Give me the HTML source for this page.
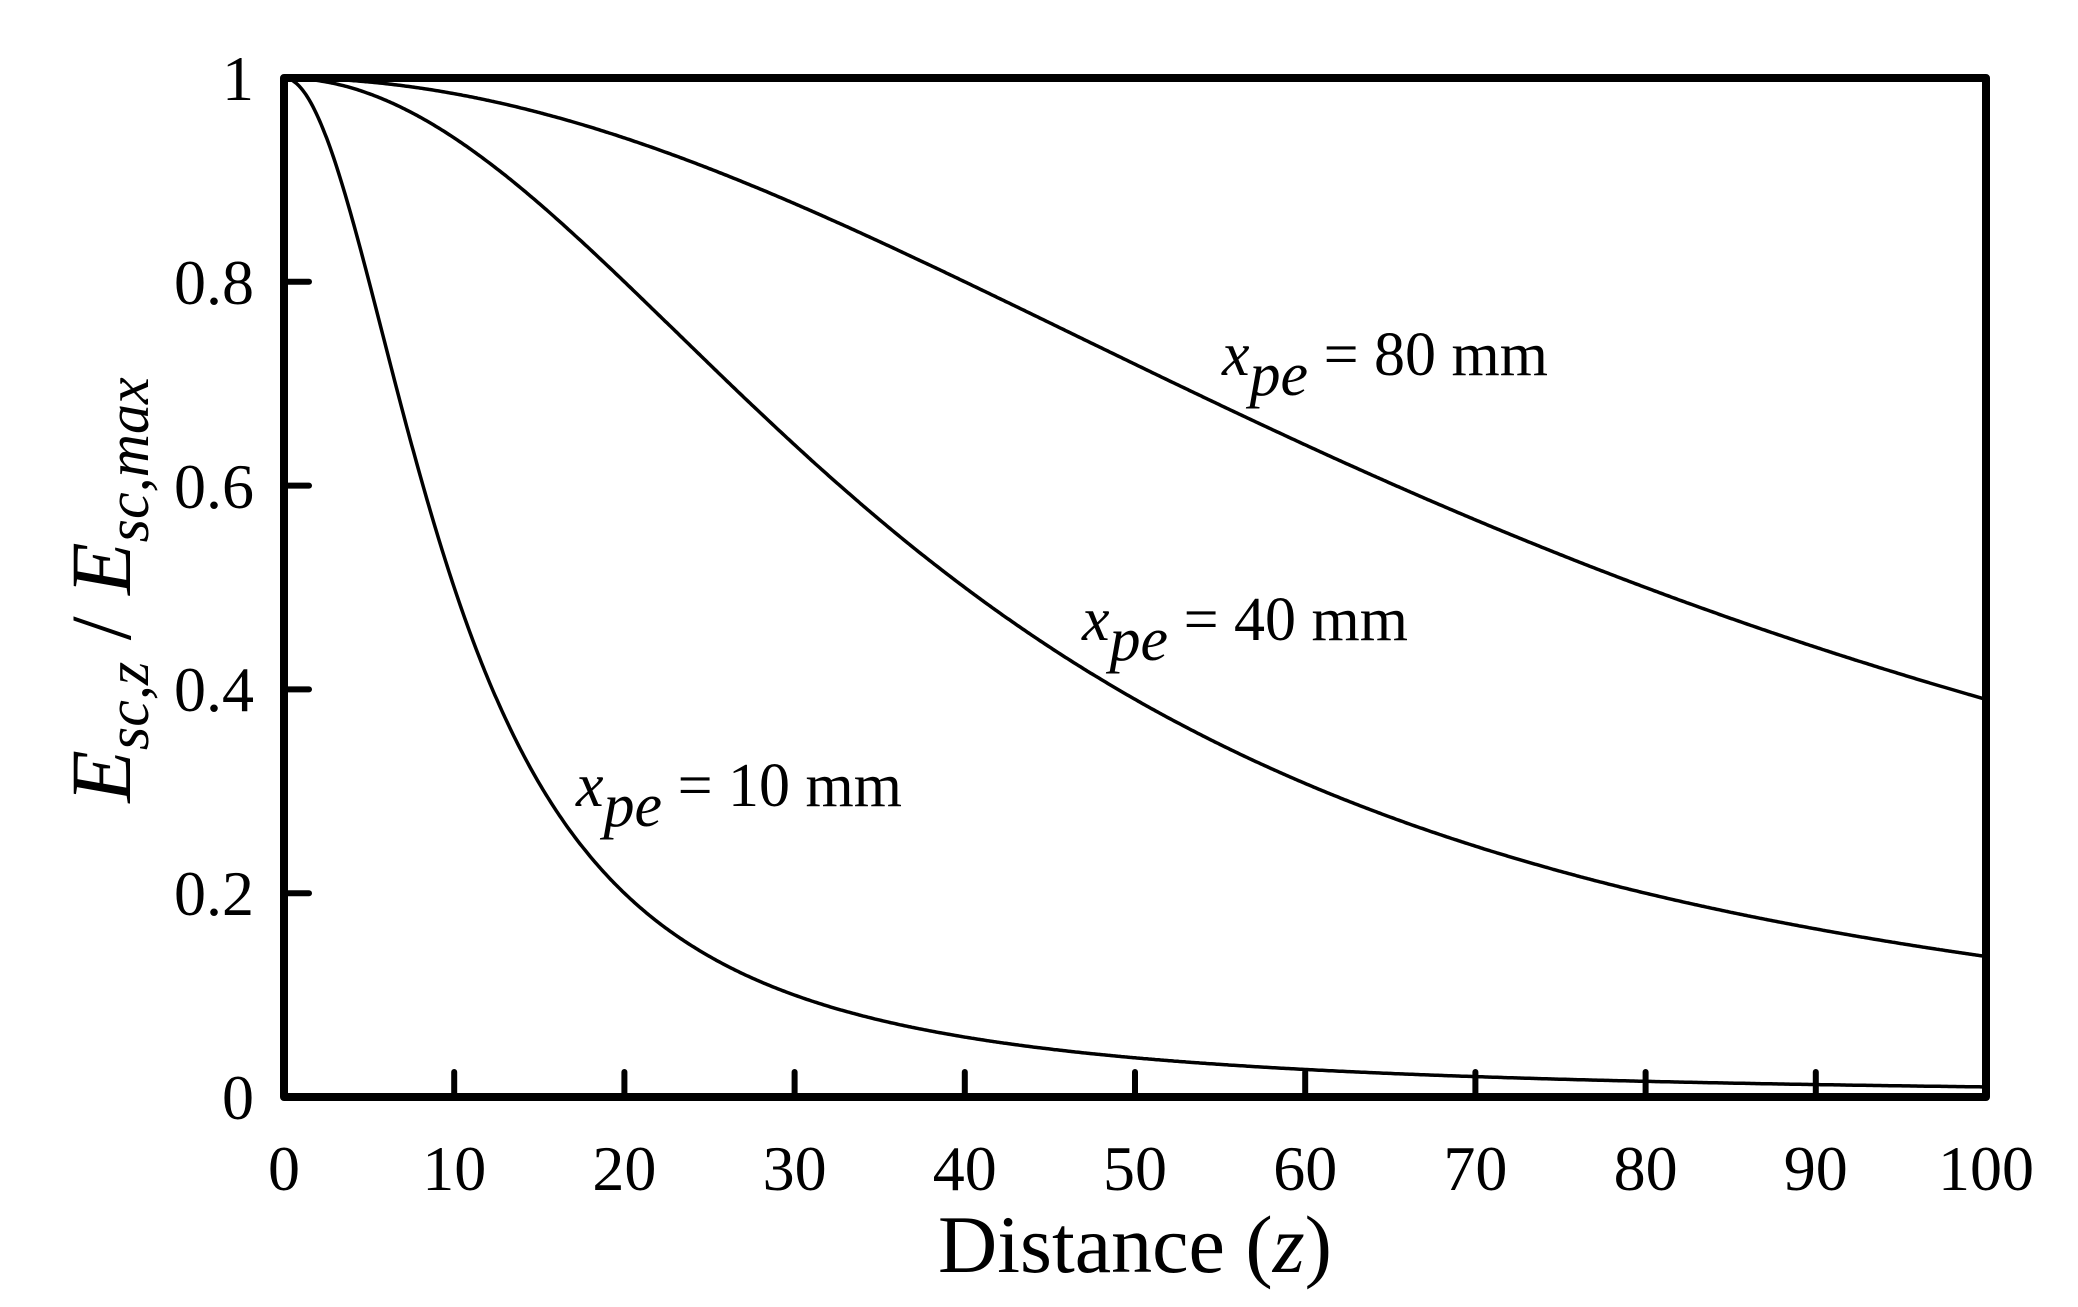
<!DOCTYPE html>
<html><head><meta charset="utf-8"><style>
html,body{margin:0;padding:0;background:#fff;width:2078px;height:1307px;overflow:hidden}
svg{display:block}
text{font-family:"Liberation Serif",serif;fill:#000}
</style></head><body>
<svg id="s" width="2078" height="1307" viewBox="0 0 2078 1307" xmlns="http://www.w3.org/2000/svg">
<g id="curves" fill="none" stroke="#000" stroke-width="3.5"></g>
<g stroke="#000" stroke-width="6" stroke-linecap="round" id="ticks"></g>
<rect x="284" y="78" width="1702" height="1019" fill="none" stroke="#000" stroke-width="8" stroke-linejoin="round"/>
<g font-size="64" text-anchor="end">
<text x="254" y="100">1</text>
<text x="254" y="304">0.8</text>
<text x="254" y="508">0.6</text>
<text x="254" y="711">0.4</text>
<text x="254" y="915">0.2</text>
<text x="254" y="1119">0</text>
</g>
<g font-size="64" text-anchor="middle" id="xl"></g>
<text x="1135" y="1272" font-size="82" text-anchor="middle">Distance (<tspan font-style="italic">z</tspan>)</text>
<text transform="translate(130,590) rotate(-90)" font-size="86" text-anchor="middle" font-style="italic">E<tspan font-size="60" dy="18">sc,z</tspan><tspan dy="-18" font-style="normal"> / </tspan>E<tspan font-size="60" dy="18">sc,max</tspan></text>
<g font-size="62">
<text x="1222" y="375"><tspan font-style="italic">x</tspan><tspan font-style="italic" dy="20">pe</tspan><tspan dy="-20"> = 80 mm</tspan></text>
<text x="1082" y="640"><tspan font-style="italic">x</tspan><tspan font-style="italic" dy="20">pe</tspan><tspan dy="-20"> = 40 mm</tspan></text>
<text x="576" y="806"><tspan font-style="italic">x</tspan><tspan font-style="italic" dy="20">pe</tspan><tspan dy="-20"> = 10 mm</tspan></text>
</g>
</svg>
<script>
var L=284,R=1986,T=78,B=1097,NS="http://www.w3.org/2000/svg";
function X(z){return L+(R-L)*z/100}function Y(v){return B-(B-T)*v}
var g=document.getElementById('curves');
[10,40,80].forEach(function(a){var d="";for(var i=0;i<=1000;i++){var z=i/10;var v=1/(1+(z/a)*(z/a));d+=(i?"L":"M")+X(z).toFixed(1)+","+Y(v).toFixed(1)}
var p=document.createElementNS(NS,'path');p.setAttribute('d',d);g.appendChild(p)});
var t=document.getElementById('ticks'),xl=document.getElementById('xl');
for(var k=1;k<10;k++){var l=document.createElementNS(NS,'line');l.setAttribute('x1',X(k*10));l.setAttribute('x2',X(k*10));l.setAttribute('y1',B);l.setAttribute('y2',B-25);t.appendChild(l)}
for(var k=1;k<5;k++){var l=document.createElementNS(NS,'line');l.setAttribute('x1',L);l.setAttribute('x2',L+25);l.setAttribute('y1',Y(k*0.2));l.setAttribute('y2',Y(k*0.2));t.appendChild(l)}
for(var k=0;k<=10;k++){var tx=document.createElementNS(NS,'text');tx.setAttribute('x',X(k*10));tx.setAttribute('y',1190);tx.textContent=k*10;xl.appendChild(tx)}
</script>
</body></html>
